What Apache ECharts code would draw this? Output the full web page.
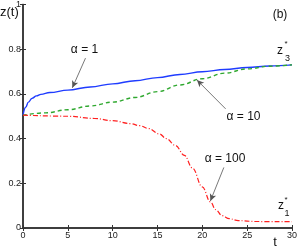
<!DOCTYPE html>
<html><head><meta charset="utf-8">
<script src="https://cdn.jsdelivr.net/npm/echarts@6/dist/echarts.min.js"></script>
<style>html,body{margin:0;padding:0;background:#fff}#c{width:300px;height:247px}</style>
</head><body><div id="c"></div>
<script>
const xTicks = [0, 5, 10, 15, 20, 25, 30];
const yTicks = [0, 0.2, 0.4, 0.6, 0.8, 1];
const tBlue = [0, 0.3, 0.6, 1, 1.5, 2, 3, 5, 7.5, 10, 12.5, 15, 17.5, 20, 22.5, 25, 27.5, 30];
const zBlue = [0.505, 0.54, 0.563, 0.58, 0.591, 0.598, 0.606, 0.617, 0.631, 0.645, 0.659, 0.673, 0.687, 0.699, 0.709, 0.718, 0.725, 0.73];
const tGreen = [0, 2.5, 5, 7.5, 10, 12.5, 15, 17.5, 20, 22.5, 25, 27.5, 30];
const zGreen = [0.505, 0.515, 0.529, 0.546, 0.563, 0.584, 0.61, 0.64, 0.668, 0.693, 0.712, 0.724, 0.73];
const tRed = [0, 5, 8, 10, 12, 13, 14, 15.2, 16, 17, 18, 18.9, 20, 20.9, 21.5, 22.2, 23, 24, 26, 30];
const zRed = [0.505, 0.5, 0.49, 0.48, 0.467, 0.458, 0.445, 0.421, 0.4, 0.369, 0.325, 0.268, 0.184, 0.117, 0.082, 0.055, 0.042, 0.033, 0.029, 0.028];
const arrow1 = [[6.97, 0.76], [5.5, 0.627]];
const arrow10 = [[22.6, 0.533], [19.4, 0.662]];
const arrow100 = [[22.4, 0.271], [20.9, 0.121]];

const zip = (a, b) => a.map((v, i) => [v, b[i]]);
const FONT = '"Liberation Sans", Arial, sans-serif';
const axisCol = '#333';
function arrowML(pts) {
  return {
    silent: true, symbol: ['none', 'arrow'], symbolSize: [5, 7],
    label: { show: false },
    lineStyle: { color: '#555', width: 0.8, type: 'solid' },
    data: [[{ coord: pts[0] }, { coord: pts[1] }]]
  };
}
const chart = echarts.init(document.getElementById('c'), null, { renderer: 'canvas' });
const baseX = { type: 'value', min: 0, max: 30, interval: 5, splitLine: { show: false },
  axisLine: { lineStyle: { color: axisCol, width: 1.5 } },
  axisTick: { inside: true, length: 3, lineStyle: { color: axisCol, width: 1 } } };
const baseY = { type: 'value', min: 0, max: 1, interval: 0.2, splitLine: { show: false },
  axisLine: { lineStyle: { color: axisCol, width: 1.5 } },
  axisTick: { inside: true, length: 3, lineStyle: { color: axisCol, width: 1 } } };
chart.setOption({
  animation: false,
  grid: { left: 23, right: 6, top: 3, bottom: 19 },
  xAxis: [
    Object.assign({}, baseX, { position: 'bottom',
      axisLabel: { fontSize: 9, color: '#222', fontFamily: FONT, margin: 3,
        formatter: v => xTicks.includes(v) ? String(v) : '' } }),
    Object.assign({}, baseX, { position: 'top', axisLabel: { show: false } })
  ],
  yAxis: [
    Object.assign({}, baseY, { position: 'left',
      axisLabel: { fontSize: 9, color: '#222', fontFamily: FONT, margin: 2,
        formatter: v => { const m = yTicks.find(t => Math.abs(t - v) < 1e-9); return m === undefined ? '' : String(m); } } }),
    Object.assign({}, baseY, { position: 'right', axisLabel: { show: false } })
  ],
  series: [
    { type: 'line', data: zip(tBlue, zBlue), showSymbol: false, smooth: 0.4, smoothMonotone: 'x',
      lineStyle: { color: '#1f3cff', width: 1.4 }, markLine: arrowML(arrow1) },
    { type: 'line', data: zip(tGreen, zGreen), showSymbol: false, smooth: 0.4, smoothMonotone: 'x',
      lineStyle: { color: '#2fa82f', width: 1.4, type: [4, 3] }, markLine: arrowML(arrow10) },
    { type: 'line', data: zip(tRed, zRed), showSymbol: false, smooth: 0.4, smoothMonotone: 'x',
      lineStyle: { color: '#ff2020', width: 1.2, type: [5, 2, 1, 2] }, markLine: arrowML(arrow100) }
  ],
  graphic: [
    { type: 'text', left: 0, top: 6, style: { text: 'z(t)', font: '13px ' + FONT, fill: '#111' } },
    { type: 'text', x: 280, y: 15, style: { text: '(b)', font: '12px ' + FONT, fill: '#111', align: 'center', verticalAlign: 'middle' } },
    { type: 'text', x: 275, y: 242, style: { text: 't', font: '13px ' + FONT, fill: '#111', align: 'center', verticalAlign: 'middle' } },
    { type: 'text', x: 84.5, y: 50, style: { text: 'α = 1', font: '12px ' + FONT, fill: '#111', align: 'center', verticalAlign: 'middle' } },
    { type: 'text', x: 243.5, y: 117, style: { text: 'α = 10', font: '12px ' + FONT, fill: '#111', align: 'center', verticalAlign: 'middle' } },
    { type: 'text', x: 225, y: 159, style: { text: 'α = 100', font: '12px ' + FONT, fill: '#111', align: 'center', verticalAlign: 'middle' } },
    { type: 'text', x: 280, y: 51, style: { text: 'z', font: '12px ' + FONT, fill: '#111', align: 'center', verticalAlign: 'middle' } },
    { type: 'text', x: 287.5, y: 58.5, style: { text: '3', font: '9px ' + FONT, fill: '#111', align: 'center', verticalAlign: 'middle' } },
    { type: 'text', x: 286, y: 44, style: { text: '*', font: '8px ' + FONT, fill: '#111', align: 'center', verticalAlign: 'middle' } },
    { type: 'text', x: 281, y: 206, style: { text: 'z', font: '12px ' + FONT, fill: '#111', align: 'center', verticalAlign: 'middle' } },
    { type: 'text', x: 287, y: 213.5, style: { text: '1', font: '9px ' + FONT, fill: '#111', align: 'center', verticalAlign: 'middle' } },
    { type: 'text', x: 286, y: 200, style: { text: '*', font: '8px ' + FONT, fill: '#111', align: 'center', verticalAlign: 'middle' } }
  ]
});
</script></body></html>
